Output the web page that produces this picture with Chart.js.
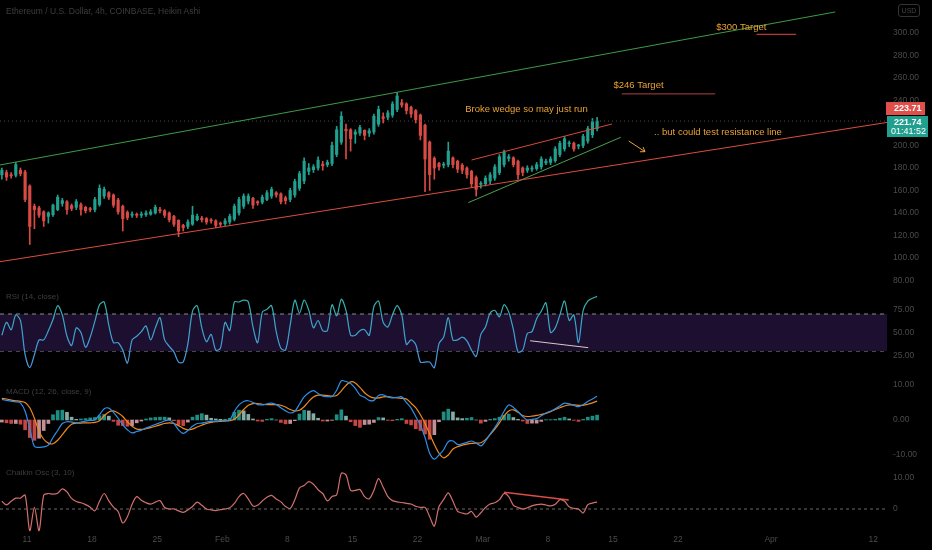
<!DOCTYPE html>
<html>
<head>
<meta charset="utf-8">
<script src="https://cdn.jsdelivr.net/npm/chart.js@4.4.1/dist/chart.umd.min.js"></script>
<style>
  html, body { margin: 0; padding: 0; background: #000; }
  #wrap { position: relative; width: 932px; height: 550px; background: #000; overflow: hidden;
          font-family: "Liberation Sans", Arial, sans-serif; }
  canvas { position: absolute; left: 0; }
  .lbl { position: absolute; left: 6px; color: #3e3e3e; font-size: 8px; white-space: nowrap; }
  #usd { position: absolute; left: 898px; top: 4px; width: 20px; height: 11px; border: 1px solid #333;
         border-radius: 3px; color: #444; font-size: 7px; line-height: 11px; text-align: center; }
</style>
</head>
<body>
<div id="wrap">
  <canvas id="main" width="932" height="286" style="top:0"></canvas>
  <canvas id="rsi" width="932" height="88" style="top:286px"></canvas>
  <canvas id="macd" width="932" height="88" style="top:374px"></canvas>
  <canvas id="chaikin" width="932" height="88" style="top:462px"></canvas>
  <div class="lbl" style="top:6px;font-size:8.5px">Ethereum / U.S. Dollar, 4h, COINBASE, Heikin Ashi</div>
  <div class="lbl" style="top:292px">RSI (14, close)</div>
  <div class="lbl" style="top:387px">MACD (12, 26, close, 9)</div>
  <div class="lbl" style="top:468px">Chaikin Osc (3, 10)</div>
  <div id="usd">USD</div>
</div>
<script>
// time axis, in days from Jan 11; one candle every 12h
const BAR_START = -2.7;
const BAR_STEP = 0.5;
const DAY_MIN = -2.9, DAY_MAX = 92.47;
const DATE_TICKS = [0, 7, 14, 21, 28, 35, 42, 49, 56, 63, 70, 80, 91];
const DATE_LABELS = ['11', '18', '25', 'Feb', '8', '15', '22', 'Mar', '8', '15', '22', 'Apr', '12'];

const PRICE_TICKS = [300, 280, 260, 240, 220, 200, 180, 160, 140, 120, 100, 80];
const RSI_TICKS = [75, 50, 25];
const MACD_TICKS = [10, 0, -10];
const CHAIKIN_TICKS = [10, 0];

const LAST_PRICE = 221.74;
const LAST_REAL = 223.71;
const COUNTDOWN = '01:41:52';

// heikin ashi candles
const OPEN = [174,176,174,173.5,178,176.5,164,146,144.5,141,
  137,138.5,143,148.5,150,146.5,145,147.5,145,143.5,
  143,147.5,155,158,156,151.5,146,140.5,138,138.5,
  138,138.5,139,140,142.5,142,140,137,133.5,129,
  128,130,134,135.5,135,133.5,133,131,130.5,132,
  134.5,140,146,150.5,153,150,149.5,152,155,158,
  157,153.5,152,156,162,168.5,177,178.5,180,183.5,
  183,184,192,203,214.5,214,210,211,213.5,211,
  212,219,225.5,225,227,232,238,237,234,231,
  227,218,203,188.5,184,182.5,183,189,186,182.5,
  180,177,171.5,165.5,166,168.5,171,176,183,188.5,
  189,186,180,178,179,179.5,181,184.5,185,186.5,
  192,197,201.5,202,199.5,200,204,209.5,215];
const CLOSE = [178,172,173,183,175,152,128,143,138,133,
  140,147,154,151,143,144,150,143,142,143,
  152,162,161,154,147,141,135,136,139,138,
  139,140,141,145,142,138,134,130,124,127,
  132,138,137,134,132,133,129,130,133,137,
  146,152,155,155,147,149,154,158,161,156,
  150,151,160,168,175,186,180,181,187,182,
  185,200,214,226,213,206,212,216,209,213,
  226,232,224,229,237,244,236,231,228,223,
  209,188,174,180,181,183,195,183,179,178,
  174,166,161,166,171,174,181,190,194,190,
  183,174,176,180,180,183,188,186,188,197,
  202,206,202,197,200,208,215,221,221.74];
const HIGH = [180,178,176,185,180,178,165,148,146,142,
  141,148,156,153,151,148,152,149,146,145,
  154,165,163,159,157,153,147,142,141,140,
  141,142,143,147,145,143,141,138,134,130,
  134,146,139,137,136,135,134,132,135,139,
  148,154,157,157,154,151,156,160,163,159,
  158,155,162,170,177,189,184,183,190,186,
  187,203,217,230,219,215,214,218,214,215,
  228,235,229,231,239,247,241,238,235,232,
  228,219,204,190,185,185,203,190,187,184,
  181,178,173,168,173,176,183,192,196,192,
  190,187,181,182,182,185,190,188,190,199,
  204,208,204,203,201,210,217,224,225];
const LOW = [170,169,171,172,173,150,112,126,136,128,
  131,137,142,146,139,142,143,138,140,141,
  141,146,153,152,145,139,124,134,136,136,
  136,137,138,139,140,136,132,128,119,124,
  126,129,133,132,130,131,127,128,129,130,
  133,138,144,148,144,147,148,151,153,154,
  148,148,150,154,160,166,174,176,178,178,
  181,182,190,201,188,195,202,209,205,208,
  210,217,220,223,225,230,234,228,225,220,
  205,159,160,170,178,180,181,180,176,175,
  171,163,155,162,164,166,169,174,181,186,
  181,170,173,176,177,178,179,183,183,185,
  190,195,199,195,197,198,202,207,213];

const RSI = [47,61,53,69,63,26,12,26,42,42,
  52,64,79,69,46,36,55,50,34,45,
  62,80,83,58,39,39,31,17,42,46,
  51,57,42,55,66,42,35,29,18,18,
  38,73,79,55,40,48,31,33,61,52,
  83,83,85,83,56,39,72,75,79,51,
  33,31,58,85,71,85,74,55,63,52,
  52,80,68,86,74,47,47,52,53,47,
  78,84,61,56,69,79,69,37,42,37,
  18,18,18,12,38,45,66,42,42,45,
  41,31,24,48,56,71,74,67,80,72,
  53,29,31,49,51,65,73,82,50,55,
  69,84,63,69,39,74,84,87,89];

const MACD = [5.9,5.6,5.4,5.2,4.9,2.5,-2.5,-7.6,-7.8,-7.7,
  -7.2,-5.0,-3.0,-1.0,-0.5,-0.6,-0.8,-0.6,-0.3,-0.1,
  0.0,1.5,3.2,3.4,2.2,0.5,-1.4,-2.8,-3.7,-3.3,
  -2.9,-2.3,-1.8,-1.3,-0.8,-0.3,0.0,-1.0,-2.8,-3.8,
  -3.0,-1.8,-1.0,-0.9,-0.6,-0.4,-0.3,-0.2,-0.1,0.0,
  2.5,4.3,5.3,5.5,5.0,4.4,4.3,4.6,4.8,4.4,
  3.5,2.6,2.0,2.5,4.5,6.6,7.8,8.4,7.6,6.8,
  6.7,6.7,8.5,11.2,11.0,10.4,9.0,7.1,6.5,5.6,
  5.6,7.0,7.2,6.6,6.3,6.5,6.6,5.0,3.4,1.0,
  -1.5,-5.0,-9.5,-11.2,-10.0,-8.5,-6.2,-6.0,-7.0,-6.8,
  -6.4,-6.0,-6.6,-7.4,-6.0,-4.0,-2.2,0.0,2.5,4.3,
  3.6,2.4,1.0,0.0,0.2,0.4,1.2,2.0,2.5,3.2,
  4.0,4.8,4.6,4.2,3.8,4.4,5.3,6.0,6.8];
const SIGNAL = [6.2,6.0,5.7,5.5,5.3,5.0,3.5,0.5,-3.2,-5.5,
  -6.6,-6.8,-5.8,-4.2,-2.5,-1.2,-0.9,-0.9,-0.8,-0.8,
  -0.7,-0.2,1.2,2.3,2.6,2.0,1.0,-0.5,-1.8,-2.6,
  -2.7,-2.5,-2.2,-1.8,-1.4,-1.0,-0.8,-1.0,-1.6,-2.4,
  -2.8,-2.6,-2.0,-1.5,-1.0,-0.7,-0.5,-0.4,-0.3,-0.2,
  0.2,1.5,3.0,4.2,4.7,4.7,4.5,4.4,4.4,4.4,
  4.2,3.7,3.0,2.6,2.8,3.8,5.3,6.6,7.1,7.1,
  7.0,6.8,7.0,8.3,9.9,10.9,10.6,9.3,7.8,6.8,
  6.3,6.3,6.6,6.7,6.5,6.3,6.2,6.0,4.8,3.5,
  1.5,-1.0,-4.0,-7.0,-9.5,-10.8,-10.0,-8.3,-7.6,-7.2,
  -6.9,-6.7,-6.6,-6.5,-5.6,-4.2,-2.6,-0.8,1.2,2.6,
  2.9,2.2,1.3,1.0,1.1,1.3,1.6,1.9,2.4,3.0,
  3.5,4.0,4.3,4.3,4.2,4.2,4.5,4.9,5.4];
const HIST = [-0.6,-0.8,-1.0,-1.0,-1.2,-2.8,-5.0,-5.8,-5.2,-3.0,
  -1.0,1.5,2.7,2.8,2.2,0.8,0.2,0.3,0.4,0.6,
  0.7,1.2,1.6,1.1,-0.4,-1.5,-1.6,-1.8,-1.6,-0.8,
  -0.3,0.3,0.6,0.7,0.8,0.8,0.6,-0.2,-1.3,-1.6,
  -0.6,0.8,1.4,1.8,1.4,0.5,0.3,0.2,0.2,0.5,
  2.2,2.8,2.6,1.6,0.3,-0.3,-0.4,0.2,0.4,0.0,
  -0.7,-1.1,-1.0,-0.2,1.7,2.8,2.6,1.8,0.5,-0.3,
  -0.3,-0.1,1.5,2.9,1.1,-0.5,-1.6,-2.1,-1.3,-1.2,
  -0.7,0.7,0.6,-0.1,-0.2,0.2,0.4,-1.0,-1.4,-2.5,
  -3.0,-4.0,-5.5,-4.2,-0.5,2.3,3.1,2.3,0.6,0.4,
  0.5,0.7,0.0,-0.9,-0.4,0.2,0.4,0.8,1.3,1.7,
  0.7,0.2,-0.3,-1.0,-0.9,-0.9,-0.4,0.1,0.1,0.2,
  0.5,0.8,0.3,-0.1,-0.4,0.2,0.8,1.1,1.4];

const CHAIKIN = [2.5,1.3,2.5,3.5,3.5,4.5,-7.0,0.5,-7.0,4.5,
  5.0,4.8,5.1,6.5,5.5,3.4,2.4,2.0,1.4,0.6,
  -0.6,2.5,5.0,2.6,0.6,-0.8,-4.5,-2.5,1.5,4.0,
  2.8,2.0,1.6,2.2,2.7,0.5,0.0,0.0,-0.6,-1.1,
  -0.3,0.8,2.2,1.2,0.0,-0.3,-0.5,-0.2,0.0,0.4,
  1.8,4.0,5.0,3.2,1.0,1.2,2.6,3.8,4.4,3.2,
  2.3,0.8,0.2,3.0,6.8,7.6,8.8,8.0,6.2,5.0,
  2.6,4.0,4.6,11.5,11.0,6.0,6.0,6.3,4.0,3.3,
  6.0,9.8,7.0,4.0,2.7,2.3,2.1,1.8,1.6,0.9,
  0.5,0.5,-2.5,-5.5,0.8,3.0,5.2,2.5,-0.8,-1.3,
  -1.6,-0.8,-2.6,-1.2,0.5,1.6,2.0,3.0,5.0,4.0,
  1.2,0.5,0.0,0.4,1.0,1.4,1.6,1.3,1.0,1.5,
  3.0,2.5,0.7,0.2,0.0,-1.3,1.4,1.9,2.2];

// drawn lines, [day, value] ends
const GREEN_CHANNEL = [[-2.9, 182.7], [86.9, 318.7]];
const RED_CHANNEL = [[-2.9, 96.7], [92.47, 220.5]];
const WEDGE_TOP = [[47.8, 187.1], [62.9, 219.1]];
const WEDGE_BOTTOM = [[47.45, 149.2], [63.85, 207.3]];
const TARGET_246 = [[63.95, 245.8], [74.0, 245.8]];
const TARGET_300 = [[78.45, 298.8], [82.7, 298.8]];
const ARROW = [[64.7, 204], [66.45, 194.5]];
const RSI_DIVERGENCE = [[54.1, 41.1], [60.35, 33.6]];
const CHAIKIN_DIVERGENCE = [[51.3, 5.4], [58.25, 2.9]];

const NOTES = [
  { text: '$300 Target', day: 76.8, price: 305.3 },
  { text: '$246 Target', day: 65.75, price: 253.8 },
  { text: 'Broke wedge so may just run', day: 53.7, price: 232.4 },
  { text: '.. but could test resistance line', day: 74.3, price: 212 }
];

const AXIS_W = 45;
const AXIS_TEXT = '#4b4b4b';
const NOTE_COLOR = '#eba233';
const FONT = '"Liberation Sans", Arial, sans-serif';
Chart.defaults.font.family = FONT;

const days = CLOSE.map((_, i) => BAR_START + i * BAR_STEP);
const upColor = '#22a08f', downColor = '#d84b45';
const candleColor = CLOSE.map((c, i) => c >= OPEN[i] ? upColor : downColor);

function xScale(show) {
  return {
    type: 'linear', min: DAY_MIN, max: DAY_MAX, offset: false, display: show,
    grid: { display: false, drawTicks: false }, border: { display: false },
    afterBuildTicks: s => { s.ticks = DATE_TICKS.map(v => ({ value: v })); },
    afterFit: s => {
      if (show) s.height = 18;
      s.paddingLeft = 0; s.paddingRight = 0;
    },
    ticks: { autoSkip: false, maxRotation: 0, color: AXIS_TEXT, font: { size: 8.5 }, padding: 3,
      callback: (v, i) => DATE_LABELS[i] }
  };
}

function yScale(min, max, ticks, fmt) {
  return {
    position: 'right', min: min, max: max,
    grid: { display: false, drawTicks: false }, border: { display: false },
    afterBuildTicks: s => { s.ticks = ticks.map(v => ({ value: v })); },
    afterFit: s => { s.width = AXIS_W; s.paddingTop = 0; s.paddingBottom = 0; },
    ticks: { autoSkip: false, color: AXIS_TEXT, font: { size: 8.5 }, padding: 6, callback: v => fmt(v) }
  };
}

function seg(pts, color, width) {
  return { type: 'line', data: pts.map(p => ({ x: p[0], y: p[1] })), borderColor: color,
    borderWidth: width || 1, pointRadius: 0, fill: false, tension: 0 };
}

function series(vals, color, extra) {
  return Object.assign({ type: 'line', data: days.map((d, i) => ({ x: d, y: vals[i] })),
    borderColor: color, borderWidth: 1.2, pointRadius: 0, fill: false, tension: 0.3 }, extra || {});
}

function flat(v, color, extra) {
  return Object.assign({ type: 'line', data: [{ x: DAY_MIN, y: v }, { x: DAY_MAX, y: v }],
    borderColor: color, borderWidth: 1, borderDash: [4, 4], pointRadius: 0, fill: false }, extra || {});
}

const baseOpts = {
  responsive: false, animation: false, events: [],
  layout: { padding: 0, autoPadding: false },
  plugins: { legend: { display: false }, tooltip: { enabled: false } }
};

const mainNotes = {
  id: 'mainNotes',
  afterDatasetsDraw(chart) {
    const { ctx, scales: { x, y }, chartArea } = chart;
    ctx.save();
    ctx.font = '9.5px ' + FONT;
    ctx.fillStyle = NOTE_COLOR;
    ctx.textAlign = 'center';
    ctx.textBaseline = 'middle';
    NOTES.forEach(n => ctx.fillText(n.text, x.getPixelForValue(n.day), y.getPixelForValue(n.price)));

    const x0 = x.getPixelForValue(ARROW[0][0]), y0 = y.getPixelForValue(ARROW[0][1]);
    const x1 = x.getPixelForValue(ARROW[1][0]), y1 = y.getPixelForValue(ARROW[1][1]);
    const ang = Math.atan2(y1 - y0, x1 - x0);
    ctx.strokeStyle = NOTE_COLOR;
    ctx.lineWidth = 1;
    ctx.beginPath();
    ctx.moveTo(x0, y0); ctx.lineTo(x1, y1);
    ctx.moveTo(x1 - 5 * Math.cos(ang - 0.6), y1 - 5 * Math.sin(ang - 0.6));
    ctx.lineTo(x1, y1);
    ctx.lineTo(x1 - 5 * Math.cos(ang + 0.6), y1 - 5 * Math.sin(ang + 0.6));
    ctx.stroke();

    // last price labels on the axis
    const yl = y.getPixelForValue(LAST_PRICE);
    const ax = chartArea.right;
    ctx.fillStyle = '#e0504b';
    ctx.fillRect(ax - 1, yl - 19, 39, 13);
    ctx.fillStyle = '#22a08f';
    ctx.fillRect(ax, yl - 5, 41, 21);
    ctx.fillStyle = '#fff';
    ctx.textAlign = 'left';
    ctx.font = 'bold 9px ' + FONT;
    ctx.fillText(LAST_REAL.toFixed(2), ax + 7, yl - 12.5);
    ctx.fillText(LAST_PRICE.toFixed(2), ax + 7, yl + 1);
    ctx.font = '9px ' + FONT;
    ctx.fillText(COUNTDOWN, ax + 4, yl + 10);
    ctx.restore();
  }
};

new Chart(document.getElementById('main'), {
  type: 'bar',
  data: { datasets: [
    seg(GREEN_CHANNEL, '#3e9b47'),
    seg(RED_CHANNEL, '#dd4d3e'),
    seg(WEDGE_TOP, '#d8483c'),
    seg(WEDGE_BOTTOM, '#4ba24d'),
    seg(TARGET_246, '#8e3434', 1.3),
    seg(TARGET_300, '#b73932', 1.3),
    flat(LAST_PRICE, '#4a4a4a', { borderDash: [1, 3] }),
    { data: days.map((d, i) => ({ x: d, y: [OPEN[i], CLOSE[i]] })), backgroundColor: candleColor,
      barThickness: 2.5, minBarLength: 1, grouped: false, order: 10 },
    { data: days.map((d, i) => ({ x: d, y: [LOW[i], HIGH[i]] })), backgroundColor: candleColor,
      barThickness: 1, grouped: false, order: 11 }
  ] },
  options: Object.assign({}, baseOpts, {
    scales: { x: xScale(false), y: yScale(75.1, 329.33, PRICE_TICKS, v => v.toFixed(2)) }
  }),
  plugins: [mainNotes]
});

function rsiGradient(ctx) {
  const area = ctx.chart.chartArea;
  if (!area) return '#3d9ad6';
  const g = ctx.chart.ctx.createLinearGradient(0, area.top, 0, area.bottom);
  g.addColorStop(0, '#2fb89c');
  g.addColorStop(0.5, '#3ea3cf');
  g.addColorStop(1, '#4e93e0');
  return g;
}

new Chart(document.getElementById('rsi'), {
  type: 'line',
  data: { datasets: [
    series(RSI, rsiGradient),
    seg(RSI_DIVERGENCE, '#d9c9c9'),
    flat(70, '#8c8c8c', { fill: '+1', backgroundColor: '#1c0f30', order: 5 }),
    flat(30, '#8c8c8c', { order: 5 })
  ] },
  options: Object.assign({}, baseOpts, {
    scales: { x: xScale(false), y: yScale(5.14, 100.27, RSI_TICKS, v => v.toFixed(2)) }
  })
});

const histColor = HIST.map((h, i) => {
  const p = i ? HIST[i - 1] : h;
  if (h >= 0) return h >= p ? 'rgba(38,166,154,0.85)' : 'rgba(170,215,205,0.8)';
  return h < p ? 'rgba(230,83,80,0.85)' : 'rgba(240,180,188,0.8)';
});

new Chart(document.getElementById('macd'), {
  type: 'bar',
  data: { datasets: [
    series(MACD, '#2d8fe6'),
    series(SIGNAL, '#f08a1e'),
    { data: days.map((d, i) => ({ x: d, y: HIST[i] })), backgroundColor: histColor,
      barThickness: 3, grouped: false, order: 5 }
  ] },
  options: Object.assign({}, baseOpts, {
    scales: { x: xScale(false), y: yScale(-12, 13.14, MACD_TICKS, v => v.toFixed(2)) }
  })
});

new Chart(document.getElementById('chaikin'), {
  type: 'line',
  data: { datasets: [
    series(CHAIKIN, '#d16f6c'),
    seg(CHAIKIN_DIVERGENCE, '#dc4d45', 1.3),
    flat(0, '#6a6a6a', { borderDash: [3, 3], order: 5 })
  ] },
  options: Object.assign({}, baseOpts, {
    scales: { x: xScale(true), y: yScale(-7.42, 15.16, CHAIKIN_TICKS, v => v === 0 ? '0' : v.toFixed(2)) }
  })
});
</script>
</body>
</html>
